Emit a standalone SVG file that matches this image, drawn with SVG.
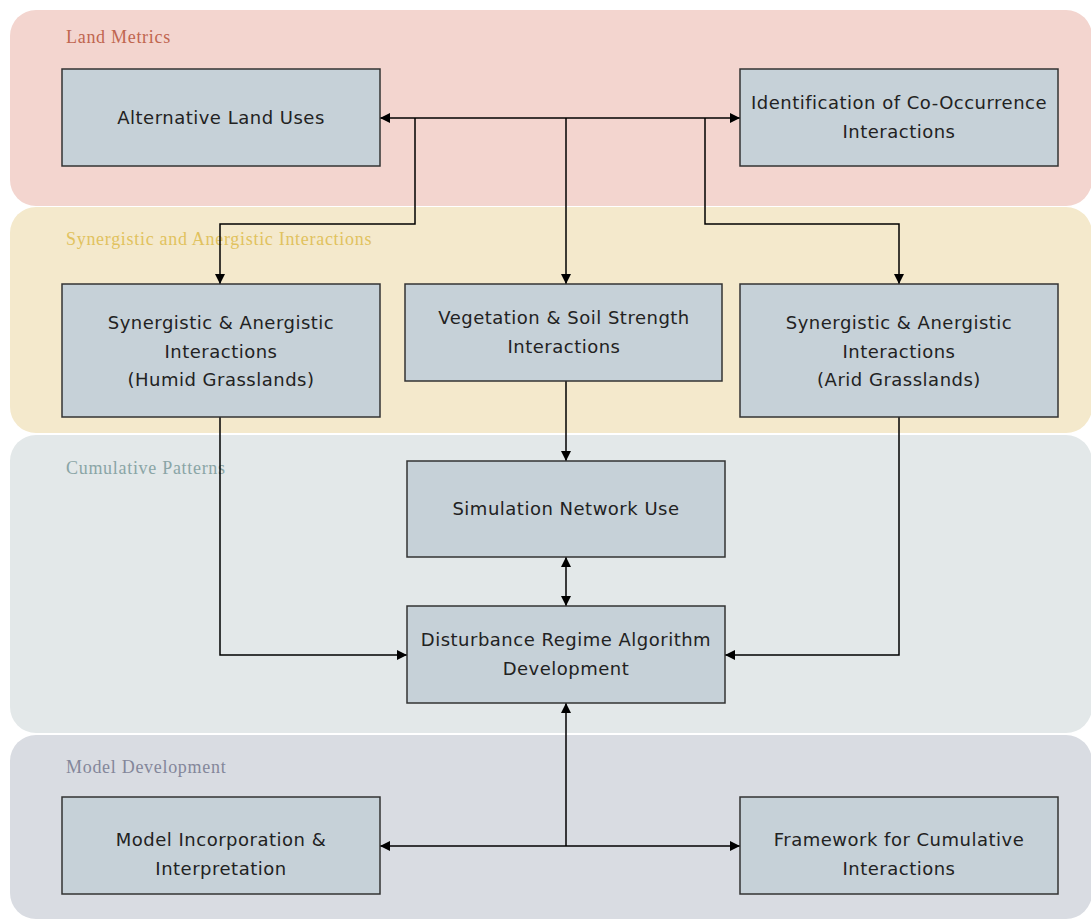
<svg xmlns="http://www.w3.org/2000/svg" width="1091" height="922" viewBox="0 0 1091 922">
<style>
.band-label{font-family:"Liberation Serif",serif;font-size:18px;letter-spacing:0.7px;}
.node rect{fill:#c6d1d8;stroke:#333;stroke-width:1.5;}
.node text{font-family:"DejaVu Sans","Noto Sans",sans-serif;font-size:18px;letter-spacing:0.5px;fill:#222;text-anchor:middle;}
.conn{fill:none;stroke:#000;stroke-width:1.5;}
</style>
<defs>
<marker id="arr" viewBox="0 0 10 10" refX="10" refY="5" markerWidth="11" markerHeight="10" markerUnits="userSpaceOnUse" orient="auto-start-reverse">
<path d="M0,0 L10,5 L0,10 z" fill="#000"/>
</marker>
</defs>
<rect width="1091" height="922" fill="#ffffff"/>
<g id="bands">
<rect x="10" y="10" width="1082" height="196" rx="26" fill="#f3d5cf"/>
<rect x="10" y="207" width="1082" height="226" rx="26" fill="#f4e9cc"/>
<rect x="10" y="435" width="1082" height="298" rx="26" fill="#e3e8e9"/>
<rect x="10" y="735" width="1082" height="184" rx="26" fill="#d9dce2"/>
<text class="band-label" x="66" y="43" fill="#c0664f">Land Metrics</text>
<text class="band-label" x="66" y="245" fill="#e1c25e">Synergistic and Anergistic Interactions</text>
<text class="band-label" x="66" y="474" fill="#8aa5a6">Cumulative Patterns</text>
<text class="band-label" x="66" y="773" fill="#84879a">Model Development</text>
</g>
<g id="connectors">
<path class="conn" d="M415,118 L380,118" marker-end="url(#arr)"/>
<path class="conn" d="M415,118 L740,118" marker-end="url(#arr)"/>
<path class="conn" d="M415,118 L415,224 L220,224 L220,284" marker-end="url(#arr)"/>
<path class="conn" d="M566,118 L566,284" marker-end="url(#arr)"/>
<path class="conn" d="M705,118 L705,224 L899,224 L899,284" marker-end="url(#arr)"/>
<path class="conn" d="M566,381 L566,461" marker-end="url(#arr)"/>
<path class="conn" d="M566,557 L566,606" marker-start="url(#arr)" marker-end="url(#arr)"/>
<path class="conn" d="M220,417 L220,655 L407,655" marker-end="url(#arr)"/>
<path class="conn" d="M899,417 L899,655 L725,655" marker-end="url(#arr)"/>
<path class="conn" d="M380,846 L740,846" marker-start="url(#arr)" marker-end="url(#arr)"/>
<path class="conn" d="M566,846 L566,703" marker-end="url(#arr)"/>
</g>
<g id="n1" class="node"><rect x="62" y="69" width="318" height="97"/><text x="221" y="124">Alternative Land Uses</text></g>
<g id="n2" class="node"><rect x="740" y="69" width="318" height="97"/><text x="899" y="109">Identification of Co-Occurrence</text><text x="899" y="138">Interactions</text></g>
<g id="n3" class="node"><rect x="62" y="284" width="318" height="133"/><text x="221" y="329">Synergistic &amp; Anergistic</text><text x="221" y="358">Interactions</text><text x="221" y="386">(Humid Grasslands)</text></g>
<g id="n4" class="node"><rect x="405" y="284" width="317" height="97"/><text x="564" y="324">Vegetation &amp; Soil Strength</text><text x="564" y="353">Interactions</text></g>
<g id="n5" class="node"><rect x="740" y="284" width="318" height="133"/><text x="899" y="329">Synergistic &amp; Anergistic</text><text x="899" y="358">Interactions</text><text x="899" y="386">(Arid Grasslands)</text></g>
<g id="n6" class="node"><rect x="407" y="461" width="318" height="96"/><text x="566" y="515">Simulation Network Use</text></g>
<g id="n7" class="node"><rect x="407" y="606" width="318" height="97"/><text x="566" y="646">Disturbance Regime Algorithm</text><text x="566" y="675">Development</text></g>
<g id="n8" class="node"><rect x="62" y="797" width="318" height="97"/><text x="221" y="846">Model Incorporation &amp;</text><text x="221" y="875">Interpretation</text></g>
<g id="n9" class="node"><rect x="740" y="797" width="318" height="97"/><text x="899" y="846">Framework for Cumulative</text><text x="899" y="875">Interactions</text></g>
</svg>
